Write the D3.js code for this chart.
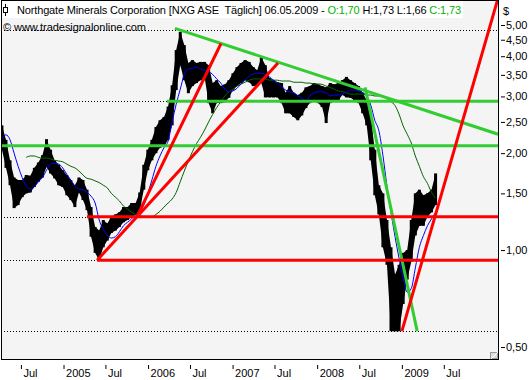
<!DOCTYPE html>
<html lang="de">
<head>
<meta charset="utf-8">
<title>Northgate Minerals Corporation</title>
<script src="https://cdn.jsdelivr.net/npm/d3@7"></script>
<style>
  body { margin: 0; background: #fff; }
  svg text { font-family: "Liberation Sans", Arial, sans-serif; font-size: 11px; white-space: pre; }
</style>
</head>
<body>
<svg id="chart" width="531" height="380"></svg>
<script>
// sampled price range, one bar every 2.5 weeks from 10 Apr 2004
var priceHigh = [2.44,2.20,1.90,1.68,1.65,1.65,1.71,1.70,1.80,1.87,
  1.97,2.21,2.05,1.90,1.84,1.77,1.71,1.65,1.59,1.68,
  1.65,1.54,1.36,1.18,1.15,1.24,1.21,1.27,1.29,1.31,
  1.36,1.36,1.40,1.40,1.51,1.84,2.05,2.20,2.41,2.53,
  2.59,2.79,3.25,4.18,4.76,4.33,3.81,3.89,3.81,3.84,
  3.84,3.75,3.30,3.37,3.23,3.27,3.37,3.54,3.70,3.81,
  3.89,3.84,3.70,3.62,3.97,3.75,3.42,3.37,3.32,3.30,
  3.08,3.23,3.08,3.03,3.08,3.20,3.23,3.30,3.27,3.23,
  3.20,3.30,3.27,3.30,3.37,3.45,3.37,3.30,3.23,3.08,
  2.92,2.59,2.05,1.59,1.50,1.24,1.02,0.84,0.90,0.98,
  1.00,1.24,1.50,1.54,1.48,1.50,1.54,1.73];
var priceLow = [2.05,1.80,1.59,1.35,1.38,1.46,1.50,1.51,1.57,1.63,
  1.68,1.81,1.73,1.67,1.59,1.57,1.48,1.43,1.36,1.51,
  1.43,1.33,1.10,0.98,0.93,1.02,1.07,1.13,1.15,1.18,
  1.22,1.24,1.27,1.29,1.33,1.54,1.77,1.90,2.00,2.08,
  2.10,2.20,2.44,3.14,3.75,3.37,3.07,3.23,3.30,3.37,
  3.45,2.86,2.66,2.86,2.86,2.88,2.97,3.14,3.23,3.30,
  3.37,3.32,3.23,3.23,3.30,2.98,2.98,2.98,2.98,2.86,
  2.66,2.66,2.59,2.53,2.62,2.76,2.86,2.92,2.86,2.78,
  2.48,2.86,2.92,2.92,3.03,2.98,2.97,2.92,2.86,2.66,
  2.44,1.90,1.48,1.29,1.02,0.90,0.56,0.56,0.56,0.68,
  0.81,0.92,1.11,1.19,1.19,1.27,1.31,1.38];
// short moving average (blue)
var maFast = [2.23,2.28,2.20,2.00,1.82,1.68,1.58,1.55,1.57,1.63,
  1.68,1.77,1.85,1.86,1.85,1.80,1.72,1.65,1.58,1.55,
  1.54,1.51,1.47,1.40,1.24,1.16,1.11,1.09,1.10,1.14,
  1.19,1.22,1.25,1.29,1.32,1.38,1.50,1.65,1.82,1.96,
  2.08,2.18,2.50,2.84,3.16,3.51,3.65,3.67,3.70,3.65,
  3.62,3.59,3.51,3.40,3.30,3.16,3.10,3.12,3.18,3.28,
  3.37,3.47,3.52,3.54,3.54,3.51,3.45,3.37,3.30,3.21,
  3.14,3.10,3.08,3.01,2.97,2.90,3.01,3.08,3.10,3.10,
  3.08,3.01,3.03,3.03,3.05,3.10,3.14,3.14,3.12,3.08,
  3.01,2.82,2.53,2.35,1.97,1.58,1.31,1.10,0.94,0.82,
  0.74,0.76,0.88,1.02,1.11,1.19,1.25,1.31];
// long moving average (dark green), starts later
var maSlow = [null,null,null,null,null,null,1.94,1.96,1.96,1.94,
  1.93,1.93,1.92,1.90,1.89,1.88,1.85,1.82,1.80,1.76,
  1.71,1.67,1.66,1.64,1.62,1.59,1.56,1.50,1.46,1.42,
  1.37,1.34,1.31,1.29,1.28,1.27,1.27,1.27,1.29,1.32,
  1.36,1.40,1.44,1.51,1.63,1.76,1.89,2.02,2.14,2.24,
  2.36,2.50,2.64,2.77,2.89,3.01,3.10,3.16,3.23,3.28,
  3.32,3.37,3.40,3.40,3.40,3.40,3.37,3.37,3.37,3.35,
  3.35,3.35,3.32,3.32,3.32,3.30,3.30,3.28,3.28,3.27,
  3.23,3.20,3.16,3.12,3.10,3.08,3.05,3.05,3.05,3.05,
  3.03,3.03,3.01,3.01,2.99,2.95,2.89,2.81,2.64,2.43,
  2.29,2.15,1.96,1.82,1.69,1.61,1.51,1.45];

// drawn levels and trend lines [start, price, end, price]
var dottedLevels = [4.83, 2.90, 2.11, 1.27, 0.93, 0.56];
var greenLevels = [["2006-03-23", 2.90], ["2004-04-06", 2.11]];
var redLevels = [["2005-04-12", 1.27], ["2005-05-26", 0.93]];
var greenTrends = [["2006-04-27", 4.88, "2010-02-20", 2.29],
                   ["2008-07-26", 3.20, "2009-03-08", 0.56]];
var redTrends = [["2005-05-26", 0.93, "2007-07-16", 3.81],
                 ["2005-11-14", 1.27, "2006-11-12", 4.38],
                 ["2009-01-01", 0.56, "2010-02-18", 5.98]];

var priceTicks = [0.5, 1, 1.5, 2, 2.5, 3, 3.5, 4, 4.5, 5];
var dateTicks = ["2004-07-01","2005-01-01","2005-07-01","2006-01-01","2006-07-01",
  "2007-01-01","2007-07-01","2008-01-01","2008-07-01","2009-01-01","2009-07-01"];

var parse = d3.timeParse("%Y-%m-%d");
var start = parse("2004-04-10");
var dates = priceHigh.map(function(d, i) { return new Date(start.getTime() + i * 17.5 * 864e5); });

var plotL = 1, plotR = 498, plotT = 0, plotB = 360;
var svg = d3.select("#chart");

var x = d3.scaleTime().domain([parse("2004-04-06"), parse("2010-02-20")]).range([plotL, plotR]);
var y = d3.scaleLog().domain([0.5, 5]).range([347, 25]);

svg.append("defs").append("clipPath").attr("id", "plot")
  .append("rect").attr("x", plotL + 1).attr("y", plotT + 1)
  .attr("width", plotR - plotL - 1).attr("height", plotB - plotT - 2);

svg.append("rect")
  .attr("x", plotL + 0.5).attr("y", plotT + 0.5)
  .attr("width", plotR - plotL).attr("height", plotB - plotT - 1)
  .attr("fill", "#f4f4f4").attr("stroke", "#000");

var g = svg.append("g").attr("clip-path", "url(#plot)");

// dotted price levels
g.selectAll(".dot").data(dottedLevels).enter().append("line")
  .attr("x1", plotL).attr("x2", plotR)
  .attr("y1", function(d) { return Math.round(y(d)) + 0.5; })
  .attr("y2", function(d) { return Math.round(y(d)) + 0.5; })
  .attr("stroke", "#000").attr("stroke-dasharray", "1,2");

// price range band plus a bar per sample
var band = d3.area()
  .x(function(d) { return x(d); })
  .y0(function(d, i) { return y(priceLow[i]); })
  .y1(function(d, i) { return y(priceHigh[i]); });
g.append("path").attr("d", band(dates)).attr("fill", "#000");
g.selectAll(".bar").data(dates).enter().append("rect")
  .attr("x", function(d) { return x(d) - 1.5; })
  .attr("width", 3)
  .attr("y", function(d, i) { return y(priceHigh[i]); })
  .attr("height", function(d, i) { return y(priceLow[i]) - y(priceHigh[i]); })
  .attr("fill", "#000");

var line = function(values) {
  return d3.line()
    .defined(function(d, i) { return values[i] != null; })
    .x(function(d) { return x(d); })
    .y(function(d, i) { return y(values[i]); })
    .curve(d3.curveMonotoneX)(dates);
};
g.append("path").attr("d", line(maSlow)).attr("fill", "none").attr("stroke", "#006400").attr("stroke-width", 1);
g.append("path").attr("d", line(maFast)).attr("fill", "none").attr("stroke", "#0000ff").attr("stroke-width", 1);

function drawLevels(levels, color) {
  g.selectAll(null).data(levels).enter().append("line")
    .attr("x1", function(d) { return x(parse(d[0])); }).attr("x2", plotR)
    .attr("y1", function(d) { return y(d[1]); }).attr("y2", function(d) { return y(d[1]); })
    .attr("stroke", color).attr("stroke-width", 3);
}
function drawTrends(trends, color) {
  g.selectAll(null).data(trends).enter().append("line")
    .attr("x1", function(d) { return x(parse(d[0])); })
    .attr("y1", function(d) { return y(d[1]); })
    .attr("x2", function(d) { return x(parse(d[2])); })
    .attr("y2", function(d) { return y(d[3]); })
    .attr("stroke", color).attr("stroke-width", 3);
}
drawLevels(greenLevels, "#33cc33");
drawTrends(greenTrends, "#33cc33");
drawLevels(redLevels, "#ff0000");
drawTrends(redTrends, "#ff0000");

// axes
var yAxis = d3.axisRight(y).tickValues(priceTicks).tickSize(4).tickPadding(1)
  .tickFormat(function(d) { return d3.format(".2f")(d).replace(".", ","); });
var ya = svg.append("g").attr("transform", "translate(501,0)").call(yAxis);
ya.select(".domain").remove();
ya.selectAll("text").attr("font-size", null).attr("font-family", null).attr("fill", "#000");
svg.append("text").attr("x", 503).attr("y", 15).text("$");

var xAxis = d3.axisBottom(x).tickValues(dateTicks.map(parse)).tickSize(4).tickPadding(0)
  .tickFormat(function(d) { return d.getMonth() === 0 ? d3.timeFormat("%Y")(d) : "Jul"; });
var xa = svg.append("g").attr("transform", "translate(0,365)").call(xAxis);
xa.select(".domain").remove();
xa.selectAll("text").attr("text-anchor", "start").attr("x", 2).attr("dy", null).attr("y", 12)
  .attr("font-size", null).attr("font-family", null).attr("fill", "#000");

// resize grip
svg.append("rect").attr("x", 490.5).attr("y", 352.5).attr("width", 7).attr("height", 6)
  .attr("fill", "#ddd").attr("stroke", "#999");
svg.append("path").attr("d", "M491,359 L498,352").attr("stroke", "#fff");

// header
svg.append("rect").attr("x", 2).attr("y", 1).attr("width", 461).attr("height", 17).attr("fill", "#fff");
svg.append("line").attr("x1", 5.5).attr("x2", 5.5).attr("y1", 4).attr("y2", 16).attr("stroke", "#000");
svg.append("rect").attr("x", 3.5).attr("y", 7.5).attr("width", 4).attr("height", 5).attr("fill", "#fff").attr("stroke", "#000");
var title = svg.append("text").attr("x", 17).attr("y", 14)
  .attr("textLength", 444).attr("lengthAdjust", "spacing");
title.append("tspan").text("Northgate Minerals Corporation [NXG ASE  T\u00e4glich] 06.05.2009 - ");
title.append("tspan").attr("fill", "#00b400").text("O:1,70");
title.append("tspan").text(" H:1,73 L:1,66 ");
title.append("tspan").attr("fill", "#00b400").text("C:1,73");
svg.append("text").attr("x", 3).attr("y", 31).attr("textLength", 143).text("\u00a9 www.tradesignalonline.com");
</script>
</body>
</html>
